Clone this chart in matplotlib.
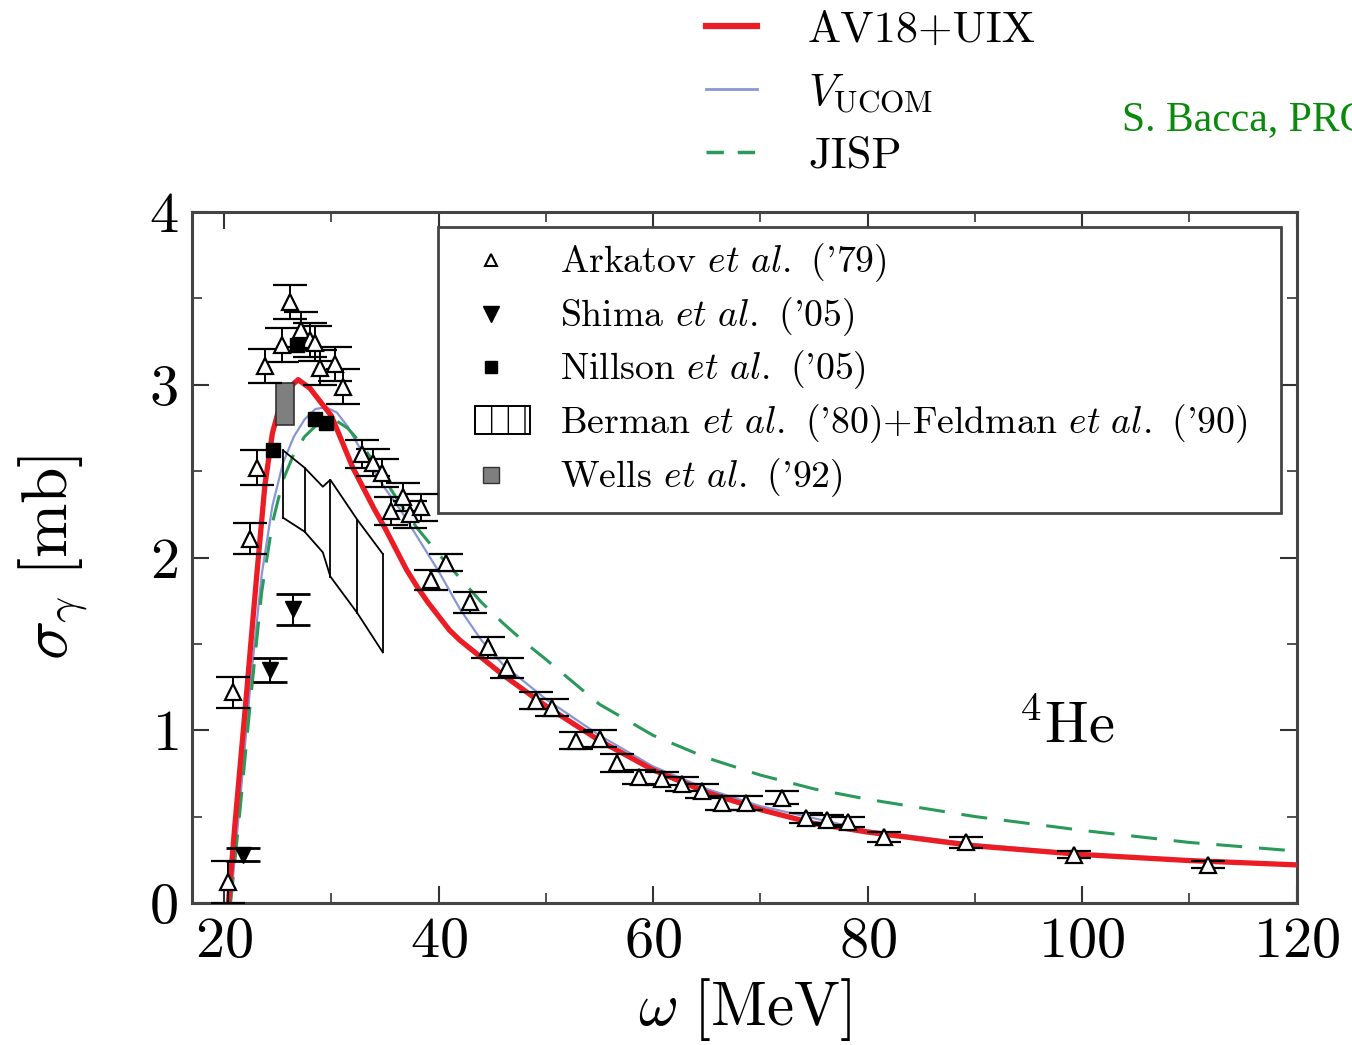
import matplotlib
matplotlib.use("Agg")
import matplotlib.pyplot as plt
from matplotlib.lines import Line2D
from matplotlib.patches import Patch, Rectangle
from matplotlib.legend_handler import HandlerPatch
from matplotlib.ticker import MultipleLocator, FuncFormatter

plt.rcParams['mathtext.fontset'] = 'cm'
plt.rcParams['font.family'] = ['cmr10', 'DejaVu Serif']
plt.rcParams['axes.formatter.use_mathtext'] = True
plt.rcParams['axes.unicode_minus'] = False

# ---------------- data ----------------
# Theory curves
x_av18 = [20.4, 21.0, 22.0, 23.0, 23.8, 24.5, 25.2, 26.0, 26.9, 28.0, 29.0, 30.0, 31.0, 32.0,
          33.0, 34.0, 35.0, 36.0, 37.0, 38.0, 39.0, 40.0, 41.0, 42.0, 43.0, 44.0, 46.0, 48.0,
          50.0, 55.0, 60.0, 65.0, 70.0, 75.0, 80.0, 90.0, 100.0, 110.0, 120.0]
y_av18 = [0.0, 0.45, 1.15, 1.87, 2.42, 2.72, 2.88, 2.98, 3.03, 2.98, 2.9, 2.82, 2.67, 2.52,
          2.4, 2.28, 2.17, 2.05, 1.93, 1.83, 1.74, 1.66, 1.58, 1.52, 1.47, 1.42, 1.32, 1.23,
          1.14, 0.94, 0.77, 0.64, 0.54, 0.46, 0.41, 0.33, 0.28, 0.245, 0.22]

x_ucom = [20.6, 21.5, 22.5, 23.5, 24.5, 25.5, 26.5, 27.5, 28.5, 29.5, 30.5, 31.5, 32.5, 33.5,
          35.0, 36.5, 38.0, 40.0, 42.0, 44.0, 46.0, 48.0, 50.0, 55.0, 60.0, 65.0, 70.0, 80.0,
          90.0, 100.0, 110.0, 120.0]
y_ucom = [0.0, 0.6, 1.3, 1.9, 2.3, 2.55, 2.7, 2.8, 2.86, 2.87, 2.84, 2.76, 2.65, 2.55,
          2.4, 2.27, 2.12, 1.92, 1.7, 1.52, 1.38, 1.28, 1.18, 0.97, 0.79, 0.66, 0.56, 0.42,
          0.34, 0.285, 0.25, 0.225]

x_jisp = [20.6, 21.5, 22.5, 23.5, 24.5, 25.5, 26.5, 27.5, 28.5, 29.5, 30.5, 31.5, 32.5, 34.0,
          36.0, 38.0, 40.0, 42.0, 44.0, 46.0, 48.0, 50.0, 55.0, 60.0, 65.0, 70.0, 75.0, 80.0,
          90.0, 100.0, 110.0, 120.0]
y_jisp = [0.0, 0.55, 1.2, 1.8, 2.2, 2.45, 2.6, 2.7, 2.76, 2.79, 2.79, 2.75, 2.68, 2.55,
          2.35, 2.17, 2.02, 1.88, 1.74, 1.62, 1.51, 1.41, 1.15, 0.97, 0.84, 0.74, 0.66, 0.6,
          0.5, 0.42, 0.35, 0.30]

# Arkatov et al. ('79)
x_ark = [20.4, 20.8, 22.4, 23.1, 23.8, 25.4, 26.1, 27.2, 28.0, 28.5, 28.9, 30.3, 31.1, 32.9,
         33.9, 34.7, 35.6, 36.7, 37.3, 38.4, 39.3, 40.7, 42.9, 44.6, 46.4, 49.1, 50.6, 52.8,
         55.0, 56.6, 58.7, 60.8, 62.7, 64.6, 66.4, 68.7, 72.0, 74.3, 76.2, 78.2, 81.5, 89.2,
         99.2, 111.7]
y_ark = [0.12, 1.22, 2.11, 2.52, 3.11, 3.23, 3.48, 3.32, 3.26, 3.24, 3.10, 3.12, 2.99, 2.60,
         2.55, 2.49, 2.27, 2.35, 2.25, 2.29, 1.87, 1.97, 1.74, 1.48, 1.36, 1.17, 1.13, 0.94,
         0.95, 0.81, 0.73, 0.72, 0.69, 0.65, 0.58, 0.58, 0.61, 0.49, 0.48, 0.47, 0.38, 0.35,
         0.28, 0.22]
e_ark = [0.12, 0.09, 0.09, 0.1, 0.1, 0.1, 0.1, 0.1, 0.1, 0.1, 0.1, 0.1, 0.1, 0.08,
         0.08, 0.08, 0.08, 0.08, 0.08, 0.08, 0.06, 0.05, 0.06, 0.06, 0.06, 0.05, 0.05, 0.05,
         0.05, 0.05, 0.04, 0.04, 0.04, 0.04, 0.04, 0.04, 0.04, 0.03, 0.03, 0.03, 0.03, 0.03,
         0.02, 0.02]

# Shima et al. ('05)
x_shima = [21.8, 24.3, 26.4]
y_shima = [0.28, 1.35, 1.70]
e_shima = [0.04, 0.07, 0.09]

# Nillson et al. ('05)
x_nil = [24.6, 26.8, 28.5, 29.5]
y_nil = [2.62, 3.23, 2.80, 2.78]

# Berman et al. ('80)+Feldman et al. ('90) band
x_band = [25.5, 27.5, 29.2, 29.9, 32.4, 34.8]
y_band_hi = [2.62, 2.52, 2.41, 2.45, 2.22, 2.02]
y_band_lo = [2.23, 2.15, 2.03, 1.89, 1.68, 1.45]
x_band_bars = [25.5, 27.5, 29.9, 32.4, 34.8]

# Wells et al. ('92)
x_wells = 25.7
y_wells_lo = 2.77
y_wells_hi = 3.01
w_wells = 1.7

# ---------------- figure ----------------
fig = plt.figure(figsize=(13.52, 10.45), dpi=100)
ax = fig.add_axes([0.142, 0.136, 0.817, 0.661])

red = '#ec1c24'
blue = '#8797d6'
green = '#2a9a5a'

ax.plot(x_ucom, y_ucom, color=blue, lw=1.6, zorder=3)
ax.plot(x_jisp, y_jisp, color=green, lw=2.2, dashes=(8.5, 5.5), zorder=3)
ax.plot(x_av18, y_av18, color=red, lw=3.8, zorder=4)

# Berman band
ax.plot(x_band, y_band_hi, color='black', lw=1.3, zorder=5)
ax.plot(x_band, y_band_lo, color='black', lw=1.3, zorder=5)
for xb in x_band_bars:
    i = x_band.index(xb)
    ax.plot([xb, xb], [y_band_lo[i], y_band_hi[i]], color='black', lw=1.3, zorder=5)

# Wells box
ax.bar([x_wells], [y_wells_hi - y_wells_lo], bottom=[y_wells_lo], width=w_wells,
       color='#7f7f7f', edgecolor='#333333', linewidth=1.2, zorder=6)

# Arkatov
ax.errorbar(x_ark, y_ark, yerr=e_ark, fmt='^', ms=11, mfc='white', mec='black', mew=1.6,
            ecolor='black', elinewidth=1.4, capsize=12.5, capthick=2.0, zorder=7)
# Shima
ax.errorbar(x_shima, y_shima, yerr=e_shima, fmt='v', ms=11, mfc='black', mec='black',
            ecolor='black', elinewidth=1.4, capsize=12.5, capthick=2.0, zorder=7)
# Nillson
ax.plot(x_nil, y_nil, 's', ms=10, color='black', zorder=8)

ax.set_xlim(17, 120)
ax.set_ylim(0, 4)
ax.xaxis.set_major_locator(MultipleLocator(20))
ax.xaxis.set_minor_locator(MultipleLocator(10))
ax.yaxis.set_major_locator(MultipleLocator(1))
ax.yaxis.set_minor_locator(MultipleLocator(0.5))
fmt = FuncFormatter(lambda v, p: r'$%d$' % int(round(v)))
ax.xaxis.set_major_formatter(fmt)
ax.yaxis.set_major_formatter(fmt)
ax.tick_params(which='both', direction='in', top=True, right=True, colors='#333333',
               labelcolor='black')
ax.tick_params(which='major', length=12, width=1.5, labelsize=42)
ax.tick_params(which='minor', length=7, width=1.2)
ax.tick_params(axis='x', which='major', pad=10)
ax.tick_params(axis='y', which='major', pad=10)
for s in ax.spines.values():
    s.set_linewidth(2.2)
    s.set_color('#444444')

ax.set_xlabel(r'$\omega\ [\mathrm{MeV}]$', fontsize=44, labelpad=6)
ax.set_ylabel(r'$\sigma_\gamma\ [\mathrm{mb}]$', fontsize=47, labelpad=42)

ax.text(0.748, 0.255, r'$^{4}\mathrm{He}$', transform=ax.transAxes, fontsize=42,
        ha='left', va='center')


# inner legend
def berman_patch(legend, orig_handle, xdescent, ydescent, width, height, fontsize):
    return Rectangle((-xdescent + 0.3 * width, -ydescent - 0.15 * height),
                     0.7 * width, 1.3 * height)


h_ark = Line2D([], [], ls='none', marker='^', ms=9, mfc='white', mec='black', mew=1.5)
h_shi = Line2D([], [], ls='none', marker='v', ms=11, mfc='black', mec='black')
h_nil = Line2D([], [], ls='none', marker='s', ms=9, mfc='black', mec='black')
h_ber = Patch(facecolor='white', edgecolor='black', hatch='|', linewidth=1.4)
h_wel = Line2D([], [], ls='none', marker='s', ms=12, mfc='#7f7f7f', mec='#333333')
leg = ax.legend([h_ark, h_shi, h_nil, h_ber, h_wel],
                ["Arkatov $et\\ al.$ ('79)", "Shima $et\\ al.$ ('05)",
                 "Nillson $et\\ al.$ ('05)",
                 "Berman $et\\ al.$ ('80)+Feldman $et\\ al.$ ('90)",
                 "Wells $et\\ al.$ ('92)"],
                handler_map={Patch: HandlerPatch(patch_func=berman_patch)},
                loc='upper left', bbox_to_anchor=(0.2226, 0.0, 0.7637, 0.978),
                mode='expand', fontsize=27.2, frameon=True, fancybox=False,
                edgecolor='#444444', framealpha=1, borderpad=0.36, labelspacing=0.29,
                handlelength=2.08, handleheight=0.5, handletextpad=0.8, borderaxespad=0)
leg.get_frame().set_linewidth(2.0)

# top legend (outside)
t_handles = [Line2D([], [], color=red, lw=4.5),
             Line2D([], [], color=blue, lw=2.0),
             Line2D([], [], color=green, lw=2.5, dashes=(5, 4))]
fig.legend(t_handles, ['AV18+UIX', r'$V_{\mathrm{UCOM}}$', 'JISP'],
           loc='upper left', bbox_to_anchor=(0.522, 0.99), fontsize=32, frameon=False,
           handlelength=1.15, handletextpad=1.15, labelspacing=0.48, borderpad=0,
           borderaxespad=0)

fig.text(1122 / 1352, 1 - 120 / 1045, 'S. Bacca, PRC', color='#0a8a0a', fontsize=30,
         family='Liberation Serif', ha='left', va='center')

fig.savefig('out.png', dpi=100)
